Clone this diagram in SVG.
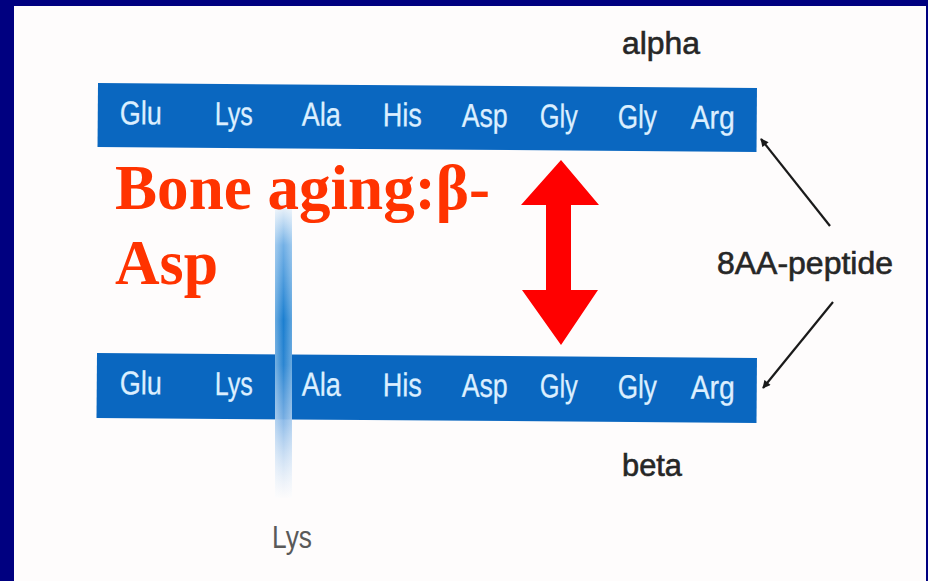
<svg xmlns="http://www.w3.org/2000/svg" width="928" height="581" viewBox="0 0 928 581">
  <defs>
    <style>
      .bar { fill: #0a67c0; }
      .aa { font-family: "Liberation Sans", Arial, sans-serif; font-size: 33px; fill: #dcefff; stroke: #dcefff; stroke-width: 0.3; }
      .lbl { font-family: "Liberation Sans", Arial, sans-serif; font-size: 31px; fill: #262626; stroke: #262626; stroke-width: 0.6; }
      .title { font-family: "Liberation Serif", "Times New Roman", serif; font-weight: bold; font-size: 64px; fill: #ff3300; }
      .conn { stroke: #1a1a1a; stroke-width: 2.2; fill: none; marker-end: url(#head); }
    </style>
    <marker id="head" viewBox="0 0 10 10" refX="9" refY="5" markerWidth="9" markerHeight="8" orient="auto-start-reverse" markerUnits="userSpaceOnUse">
      <path d="M0,0 L10,5 L0,10 z" fill="#1a1a1a"/>
    </marker>
    <linearGradient id="sideChain" x1="0" y1="200" x2="0" y2="500" gradientUnits="userSpaceOnUse">
      <stop offset="0" stop-color="#6aaee8" stop-opacity="0"/>
      <stop offset="0.15" stop-color="#5aa3e2" stop-opacity="0.85"/>
      <stop offset="0.4" stop-color="#1c7fd0" stop-opacity="1"/>
      <stop offset="0.55" stop-color="#2c86d2" stop-opacity="1"/>
      <stop offset="0.75" stop-color="#8ab9e8" stop-opacity="0.9"/>
      <stop offset="1" stop-color="#b8d4f2" stop-opacity="0"/>
    </linearGradient>
    <linearGradient id="sideShade" x1="0" y1="0" x2="1" y2="0">
      <stop offset="0" stop-color="#ffffff" stop-opacity="0.35"/>
      <stop offset="0.5" stop-color="#ffffff" stop-opacity="0"/>
      <stop offset="1" stop-color="#ffffff" stop-opacity="0.3"/>
    </linearGradient>
  </defs>

  <!-- slide frame -->
  <rect x="0" y="0" width="928" height="581" fill="#000080"/>
  <rect x="14" y="6" width="912" height="575" fill="#fefcfc"/>

  <!-- alpha chain -->
  <g id="chain-alpha" transform="rotate(0.43 98 83)">
    <rect class="bar" x="98" y="83" width="659" height="64"/>
    <text class="aa" x="120" y="124" textLength="42" lengthAdjust="spacingAndGlyphs">Glu</text>
    <text class="aa" x="215" y="124" textLength="38" lengthAdjust="spacingAndGlyphs">Lys</text>
    <text class="aa" x="302" y="124" textLength="39" lengthAdjust="spacingAndGlyphs">Ala</text>
    <text class="aa" x="383" y="124" textLength="39" lengthAdjust="spacingAndGlyphs">His</text>
    <text class="aa" x="462" y="124" textLength="46" lengthAdjust="spacingAndGlyphs">Asp</text>
    <text class="aa" x="540" y="124" textLength="38" lengthAdjust="spacingAndGlyphs">Gly</text>
    <text class="aa" x="618" y="124" textLength="39" lengthAdjust="spacingAndGlyphs">Gly</text>
    <text class="aa" x="691" y="124" textLength="44" lengthAdjust="spacingAndGlyphs">Arg</text>
  </g>

  <!-- beta chain -->
  <g id="chain-beta" transform="rotate(0.43 97 353)">
    <rect class="bar" x="97" y="353" width="660" height="65"/>
    <text class="aa" x="120" y="394" textLength="42" lengthAdjust="spacingAndGlyphs">Glu</text>
    <text class="aa" x="215" y="394" textLength="38" lengthAdjust="spacingAndGlyphs">Lys</text>
    <text class="aa" x="302" y="394" textLength="39" lengthAdjust="spacingAndGlyphs">Ala</text>
    <text class="aa" x="383" y="394" textLength="39" lengthAdjust="spacingAndGlyphs">His</text>
    <text class="aa" x="462" y="394" textLength="46" lengthAdjust="spacingAndGlyphs">Asp</text>
    <text class="aa" x="540" y="394" textLength="38" lengthAdjust="spacingAndGlyphs">Gly</text>
    <text class="aa" x="618" y="394" textLength="39" lengthAdjust="spacingAndGlyphs">Gly</text>
    <text class="aa" x="691" y="394" textLength="44" lengthAdjust="spacingAndGlyphs">Arg</text>
  </g>

  <!-- lysine side chain crossing the beta chain -->
  <g id="side-chain">
    <rect x="275" y="200" width="17" height="298" fill="url(#sideChain)"/>
    <rect x="275" y="200" width="17" height="298" fill="url(#sideShade)"/>
    <text x="272" y="548" font-family="Liberation Sans, Arial, sans-serif" font-size="31" fill="#595959" textLength="40" lengthAdjust="spacingAndGlyphs">Lys</text>
  </g>

  <!-- chain labels -->
  <g id="label-alpha">
    <text class="lbl" x="622" y="54" textLength="78" lengthAdjust="spacingAndGlyphs">alpha</text>
  </g>
  <g id="label-beta">
    <text class="lbl" x="622" y="476" textLength="60" lengthAdjust="spacingAndGlyphs">beta</text>
  </g>
  <g id="label-peptide">
    <text class="lbl" x="717" y="274" textLength="176" lengthAdjust="spacingAndGlyphs">8AA-peptide</text>
  </g>

  <!-- title -->
  <g id="title">
    <text class="title" x="115" y="209" textLength="375" lengthAdjust="spacingAndGlyphs">Bone aging:β-</text>
    <text class="title" x="115" y="284" textLength="103" lengthAdjust="spacingAndGlyphs">Asp</text>
  </g>

  <!-- double arrow between the chains -->
  <g id="double-arrow">
    <path d="M561,160 L599,205 L571,205 L571,290 L598,290 L561,345 L522,290 L546,290 L546,205 L521,205 Z" fill="#ff0000"/>
  </g>

  <!-- pointers from the peptide label -->
  <g id="connectors">
    <line class="conn" x1="830" y1="226" x2="761" y2="139"/>
    <line class="conn" x1="833" y1="302" x2="763" y2="388"/>
  </g>
</svg>
